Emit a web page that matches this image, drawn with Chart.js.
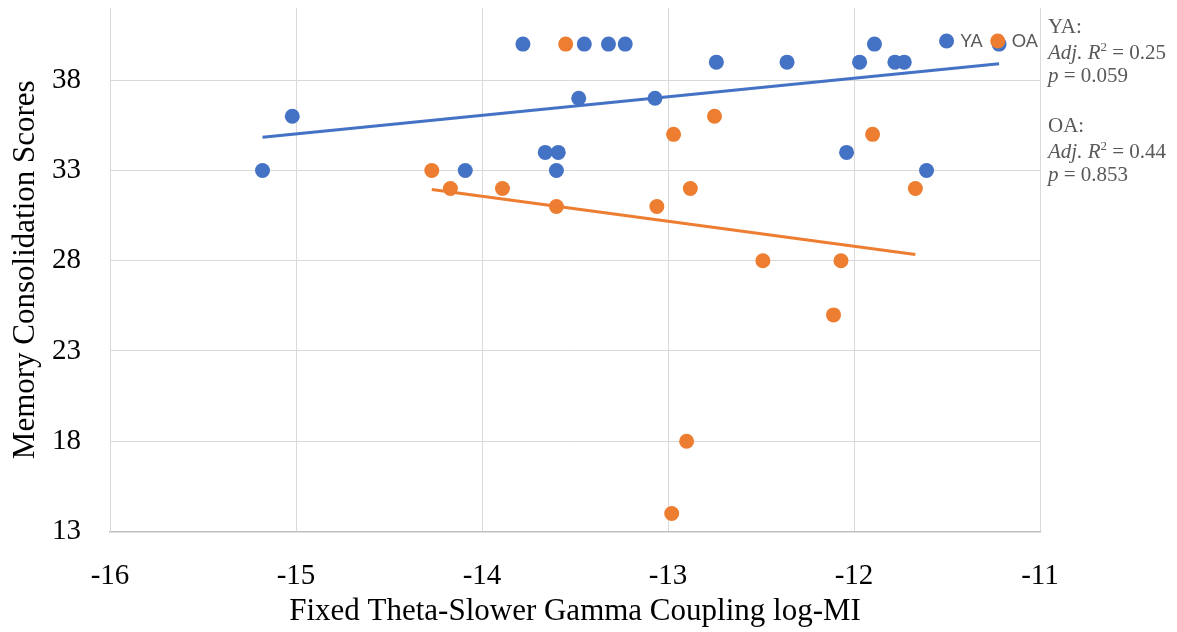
<!DOCTYPE html>
<html>
<head>
<meta charset="utf-8">
<title>Theta-Gamma Coupling vs Memory Consolidation</title>
<script src="https://cdn.jsdelivr.net/npm/chart.js@4.4.1/dist/chart.umd.min.js"></script>
<style>
  html, body { margin: 0; padding: 0; background: #fff; }
  #wrap { width: 1177px; height: 632px; }
</style>
</head>
<body>
<div id="wrap"><canvas id="couplingChart"></canvas></div>
<script>
// Young adults: coupling (log-MI) and consolidation score per subject
const yaCoupling = [-15.18, -15.02, -14.09, -13.78, -13.66, -13.59, -13.60, -13.48, -13.45, -13.32, -13.23,
                    -13.07, -12.74, -12.36, -12.04, -11.97, -11.89, -11.78, -11.73, -11.61, -11.22];
const yaScores   = [33, 36, 33, 40, 34, 34, 33, 37, 40, 40, 40,
                    37, 39, 39, 34, 39, 40, 39, 39, 33, 40];

// Older adults
const oaCoupling = [-14.27, -14.17, -13.89, -13.60, -13.55, -13.06, -12.97, -12.98,
                    -12.90, -12.88, -12.75, -12.49, -12.11, -12.07, -11.90, -11.67];
const oaScores   = [33, 32, 32, 31, 40, 31, 35, 14,
                    18, 32, 36, 28, 25, 28, 35, 32];

const xTicks = [-16, -15, -14, -13, -12, -11];
const yTicks = [13, 18, 23, 28, 33, 38];

// Regression stats printed beside the plot
const statGroups = ['YA', 'OA'];
const adjR2 = [0.25, 0.44];
const pValues = [0.059, 0.853];

const BLUE = '#4472C4';
const ORANGE = '#ED7D31';
const SERIF = "'Liberation Serif', 'Times New Roman', serif";

function toPoints(xs, ys) {
  return xs.map((x, i) => ({ x: x, y: ys[i] }));
}

// Least-squares line across the range of the group's x values
function fitLine(xs, ys) {
  const n = xs.length;
  const mx = xs.reduce((a, b) => a + b, 0) / n;
  const my = ys.reduce((a, b) => a + b, 0) / n;
  let sxy = 0, sxx = 0;
  xs.forEach((x, i) => {
    sxy += (x - mx) * (ys[i] - my);
    sxx += (x - mx) * (x - mx);
  });
  const slope = sxy / sxx;
  const x0 = Math.min(...xs), x1 = Math.max(...xs);
  return [{ x: x0, y: my + slope * (x0 - mx) }, { x: x1, y: my + slope * (x1 - mx) }];
}

// Legend drawn inside the top-right corner of the plot
const insetLegend = {
  id: 'insetLegend',
  afterDraw(chart) {
    const { ctx, chartArea } = chart;
    const items = chart.data.datasets.filter(d => d.type !== 'line');
    ctx.save();
    ctx.font = '18px Lato';
    ctx.textBaseline = 'middle';
    ctx.textAlign = 'left';
    const y = chartArea.top + 33;
    let x = chartArea.right - 2;
    for (let i = items.length - 1; i >= 0; i--) {
      const w = ctx.measureText(items[i].label).width;
      const textX = x - w;
      const cx = textX - 14;
      ctx.fillStyle = items[i].backgroundColor;
      ctx.beginPath();
      ctx.arc(cx, y, 7.5, 0, Math.PI * 2);
      ctx.fill();
      ctx.fillStyle = '#595959';
      ctx.fillText(items[i].label, textX, y);
      x = cx - 15;
    }
    ctx.restore();
  }
};

// Adj. R² and p value text to the right of the plot
const statsText = {
  id: 'statsText',
  afterDraw(chart) {
    const { ctx, chartArea } = chart;
    const left = chartArea.right + 8;
    const regular = '21px ' + SERIF;
    const italic = 'italic 21px ' + SERIF;
    ctx.save();
    ctx.fillStyle = '#595959';
    ctx.textBaseline = 'alphabetic';
    ctx.textAlign = 'left';

    function runs(parts, y) {
      let x = left;
      parts.forEach(p => {
        ctx.font = p.font;
        ctx.fillText(p.text, x, y + (p.rise || 0));
        x += ctx.measureText(p.text).width;
      });
    }

    statGroups.forEach((g, i) => {
      const top = chartArea.top + 25 + i * 99;
      runs([{ text: g + ':', font: regular }], top);
      runs([
        { text: 'Adj. R', font: italic },
        { text: '2', font: '13px ' + SERIF, rise: -8 },
        { text: ' = ' + adjR2[i].toFixed(2), font: regular }
      ], top + 26);
      runs([
        { text: 'p', font: italic },
        { text: ' = ' + pValues[i].toFixed(3), font: regular }
      ], top + 49);
    });
    ctx.restore();
  }
};

const ctx = document.getElementById('couplingChart');

new Chart(ctx, {
  type: 'scatter',
  data: {
    datasets: [
      {
        label: 'YA',
        data: toPoints(yaCoupling, yaScores),
        backgroundColor: BLUE,
        borderWidth: 0,
        pointRadius: 7.5,
        order: 4
      },
      {
        label: 'OA',
        data: toPoints(oaCoupling, oaScores),
        backgroundColor: ORANGE,
        borderWidth: 0,
        pointRadius: 7.5,
        order: 3
      },
      {
        label: 'YA fit',
        type: 'line',
        data: fitLine(yaCoupling, yaScores),
        borderColor: BLUE,
        borderWidth: 3,
        pointRadius: 0,
        fill: false,
        order: 2
      },
      {
        label: 'OA fit',
        type: 'line',
        data: fitLine(oaCoupling, oaScores),
        borderColor: ORANGE,
        borderWidth: 3,
        pointRadius: 0,
        fill: false,
        order: 1
      }
    ]
  },
  options: {
    responsive: true,
    maintainAspectRatio: false,
    animation: false,
    events: [],
    layout: {
      padding: { top: 8, right: 137, left: 0, bottom: 0 }
    },
    plugins: {
      legend: { display: false },
      tooltip: { enabled: false }
    },
    scales: {
      x: {
        type: 'linear',
        min: -16,
        max: -11,
        afterBuildTicks: axis => { axis.ticks = xTicks.map(v => ({ value: v })); },
        afterFit: scale => {
          scale.height = 100.5;
          scale.paddingLeft = 0;
          scale.paddingRight = 0;
        },
        grid: { color: '#d9d9d9', drawTicks: false },
        border: { color: '#bfbfbf', width: 1.5 },
        ticks: {
          padding: 27,
          color: '#000',
          font: { family: SERIF, size: 29 }
        },
        title: {
          display: true,
          text: 'Fixed Theta-Slower Gamma Coupling log-MI',
          color: '#000',
          font: { family: SERIF, size: 31 },
          padding: { top: 0, bottom: 2 }
        }
      },
      y: {
        min: 13,
        max: 42,
        afterBuildTicks: axis => { axis.ticks = yTicks.map(v => ({ value: v })); },
        afterFit: scale => {
          scale.width = 110;
          scale.paddingTop = 0;
          scale.paddingBottom = 0;
        },
        grid: { color: '#d9d9d9', drawTicks: false },
        border: { color: '#d9d9d9' },
        ticks: {
          padding: 29,
          color: '#000',
          font: { family: SERIF, size: 29 }
        },
        title: {
          display: true,
          text: 'Memory Consolidation Scores',
          color: '#000',
          font: { family: SERIF, size: 31 },
          padding: { top: 7, bottom: 0 }
        }
      }
    }
  },
  plugins: [insetLegend, statsText]
});
</script>
</body>
</html>
